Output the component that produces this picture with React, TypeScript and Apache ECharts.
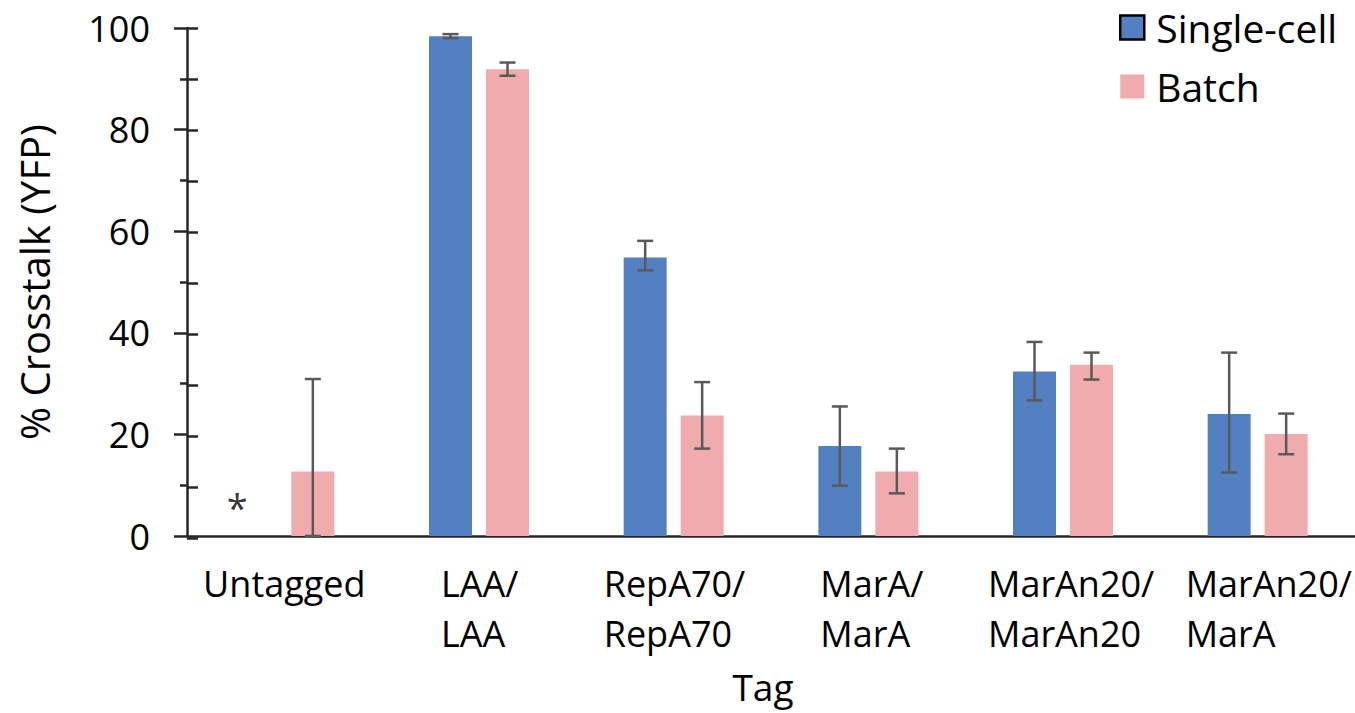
import React, { useEffect, useRef } from "react";
import * as echarts from "echarts";

const categories = ["Untagged", "LAA/\nLAA", "RepA70/\nRepA70", "MarA/\nMarA", "MarAn20/\nMarAn20", "MarAn20/\nMarA"];
const singleCell = [null, 98.4, 54.8, 17.7, 32.4, 24.0];
const singleCellLow = [null, 98.0, 52.3, 9.9, 26.7, 12.5];
const singleCellHigh = [null, 98.8, 58.1, 25.5, 38.2, 36.1];
const batch = [12.7, 91.9, 23.7, 12.7, 33.7, 20.1];
const batchLow = [0, 90.6, 17.2, 8.4, 30.8, 16.1];
const batchHigh = [30.9, 93.2, 30.3, 17.2, 36.1, 24.1];
const asteriskValue = 6.7;
const yTicks = [0, 20, 40, 60, 80, 100];

const FONT = "'Open Sans', 'Noto Sans', sans-serif";
const AXIS_COLOR = "#262626";
const BLUE = "#5280C1";
const PINK = "#F0ACAD";
const ERR = "#595959";
const BAR_W = 43;
const OFFSET = 28.5;

function errorSeries(low: (number | null)[], high: (number | null)[], offset: number) {
  const data: number[][] = [];
  low.forEach((l, i) => {
    const h = high[i];
    if (l != null && h != null) data.push([i, l, h]);
  });
  return {
    type: "custom",
    data,
    encode: { x: 0, y: [1, 2] },
    clip: false,
    z: 5,
    renderItem: (params: any, api: any) => {
      const i = api.value(0);
      const lo = api.coord([i, api.value(1)]);
      const hi = api.coord([i, api.value(2)]);
      const x = lo[0] + offset;
      const half = 8;
      const style = { stroke: ERR, lineWidth: 2.5 };
      return {
        type: "group",
        children: [
          { type: "line", shape: { x1: x, y1: lo[1], x2: x, y2: hi[1] }, style },
          { type: "line", shape: { x1: x - half, y1: hi[1], x2: x + half, y2: hi[1] }, style },
          { type: "line", shape: { x1: x - half, y1: lo[1], x2: x + half, y2: lo[1] }, style },
        ],
      };
    },
  };
}

const blockWidths = [0, 76, 140, 96, 150, 144];

export default function App() {
  const ref = useRef<HTMLDivElement>(null);
  useEffect(() => {
    if (!ref.current) return;
    const chart = echarts.init(ref.current, undefined, { renderer: "svg" });
    const rich: any = {};
    blockWidths.forEach((w, i) => {
      rich["c" + i] = w > 0
        ? { width: w, align: "left", fontSize: 36, lineHeight: 50, fontFamily: FONT, color: "#000" }
        : { align: "center", fontSize: 36, lineHeight: 50, fontFamily: FONT, color: "#000" };
    });
    const gridGeom = { left: 187, top: 28, width: 1170, height: 510 };
    chart.setOption({
      animation: false,
      backgroundColor: "#fff",
      textStyle: { fontFamily: FONT },
      grid: [gridGeom, gridGeom],
      legend: {
        orient: "vertical",
        left: 1119,
        top: 8,
        itemWidth: 24,
        itemHeight: 24,
        itemGap: 20,
        padding: 0,
        icon: "rect",
        textStyle: { fontSize: 39, color: "#000", fontFamily: FONT, padding: [0, 0, 0, 7] },
        data: [
          { name: "Single-cell", itemStyle: { borderColor: "#000", borderWidth: 2.5 } },
          { name: "Batch" },
        ],
      },
      xAxis: [
        {
          type: "category",
          gridIndex: 0,
          data: categories,
          axisLine: { lineStyle: { color: AXIS_COLOR, width: 2.5 } },
          axisTick: { show: false },
          axisLabel: {
            interval: 0,
            margin: 22,
            formatter: (v: string, idx: number) =>
              v.split("\n").map((line) => `{c${idx}|${line}}`).join("\n"),
            rich,
          },
          name: "Tag",
          nameLocation: "middle",
          nameGap: 128,
          nameTextStyle: { fontSize: 37, lineHeight: 44, color: "#000", fontFamily: FONT, padding: [0, 16, 0, 0] },
        },
        { type: "value", gridIndex: 1, show: false, min: 0, max: 1 },
      ],
      yAxis: [
        {
          type: "value",
          gridIndex: 0,
          min: yTicks[0],
          max: yTicks[yTicks.length - 1],
          interval: 20,
          axisLine: { show: true, lineStyle: { color: AXIS_COLOR, width: 2.5 } },
          axisTick: { show: true, length: 13, lineStyle: { color: AXIS_COLOR, width: 2.5 } },
          minorTick: { show: true, splitNumber: 2, length: 7, lineStyle: { color: AXIS_COLOR, width: 2.5 } },
          splitLine: { show: false },
          axisLabel: { fontSize: 36, color: "#000", margin: 37, fontFamily: FONT },
          name: "% Crosstalk (YFP)",
          nameLocation: "middle",
          nameGap: 133,
          nameTextStyle: { fontSize: 40, color: "#000", fontFamily: FONT },
        },
        {
          type: "value",
          gridIndex: 1,
          min: yTicks[0],
          max: yTicks[yTicks.length - 1],
          interval: 20,
          axisLine: { show: false },
          axisTick: { show: true, inside: true, length: 11, lineStyle: { color: AXIS_COLOR, width: 2.5 } },
          minorTick: { show: true, splitNumber: 2, length: 11, lineStyle: { color: AXIS_COLOR, width: 2.5 } },
          splitLine: { show: false },
          axisLabel: { show: false },
        },
      ],
      series: [
        {
          name: "Single-cell",
          type: "bar",
          data: singleCell,
          barWidth: BAR_W,
          barGap: "32.5%",
          itemStyle: { color: BLUE },
        },
        {
          name: "Batch",
          type: "bar",
          data: batch,
          barWidth: BAR_W,
          barGap: "32.5%",
          itemStyle: { color: PINK },
        },
        errorSeries(singleCellLow, singleCellHigh, -OFFSET),
        errorSeries(batchLow, batchHigh, OFFSET),
        {
          type: "scatter",
          data: [[0, asteriskValue]],
          symbolSize: 0,
          silent: true,
          label: {
            show: true,
            position: "inside",
            formatter: "*",
            fontSize: 38,
            color: "#000",
            fontFamily: FONT,
            offset: [-47, 5],
          },
        },
      ],
    });
    return () => chart.dispose();
  }, []);
  return <div ref={ref} style={{ width: 1355, height: 713, position: "absolute", left: 0, top: 0 }} />;
}
